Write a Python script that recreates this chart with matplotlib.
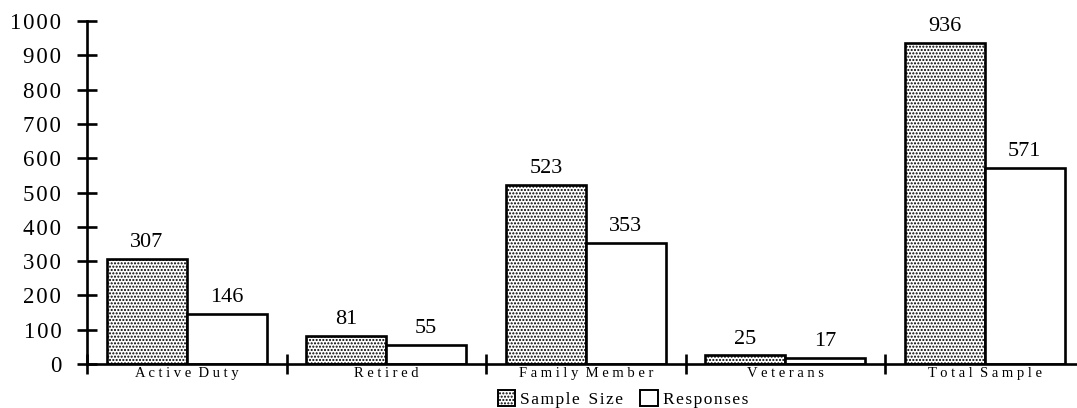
import matplotlib
matplotlib.use("Agg")
import matplotlib.pyplot as plt
import numpy as np
from matplotlib.patches import Patch

categories = ["Active Duty", "Retired", "Family Member", "Veterans", "Total Sample"]
sample_size = [307, 81, 523, 25, 936]
responses = [146, 55, 353, 17, 571]
y_ticks = [0, 100, 200, 300, 400, 500, 600, 700, 800, 900, 1000]

plt.rcParams["font.family"] = ["Liberation Serif", "DejaVu Serif"]
plt.rcParams["hatch.linewidth"] = 1.0
plt.rcParams["hatch.color"] = "#555555"

HAIR = "\u200a"


def spaced(s, sep=" "):
    return sep.join(s).replace(sep + " " + sep, "  ")


W, H = 1077, 408
fig = plt.figure(figsize=(W / 100, H / 100), dpi=100)
left_px, right_px = 87, 87 + 5 * 199.5
top_px, bottom_px = 21, 364
ax = fig.add_axes([left_px / W, 1 - bottom_px / H,
                   (right_px - left_px) / W, (bottom_px - top_px) / H])

x = np.arange(len(categories)) + 0.5
bw = 0.40
ax.bar(x - bw / 2, sample_size, bw, facecolor="white", edgecolor="black",
       linewidth=1.9, hatch=".....")
ax.bar(x + bw / 2, responses, bw, facecolor="white", edgecolor="black",
       linewidth=1.9)

for xi, v in zip(x - bw / 2, sample_size):
    ax.text(xi, v + 20, str(v), ha="center", va="bottom", fontsize=16)
for xi, v in zip(x + bw / 2, responses):
    ax.text(xi, v + 20, str(v), ha="center", va="bottom", fontsize=16)

ax.set_xlim(0, 5)
ax.set_ylim(0, 1000)
for s in ["top", "right"]:
    ax.spines[s].set_visible(False)
ax.spines["left"].set_linewidth(1.9)
ax.spines["bottom"].set_linewidth(1.9)

ax.set_yticks(y_ticks)
ax.set_yticklabels([spaced(str(t), HAIR) for t in y_ticks], fontsize=16.5)
ax.tick_params(axis="y", direction="inout", length=15, width=1.9, pad=11)
ax.set_xticks(np.arange(len(categories) + 1))
ax.set_xticklabels([])
ax.tick_params(axis="x", direction="inout", length=15, width=1.9)

for xi, c in zip(x, categories):
    ax.text(xi, -8, spaced(c), ha="center", va="top", fontsize=10.5)

handles = [Patch(facecolor="white", edgecolor="black", hatch=".....", linewidth=1.4),
           Patch(facecolor="white", edgecolor="black", linewidth=1.4)]
fig.legend(handles, [spaced("Sample Size", HAIR), spaced("Responses", HAIR)],
           loc="center", bbox_to_anchor=(623 / W, 1 - 399 / H), ncol=2,
           frameon=False, fontsize=12.5, handlelength=1.0, handleheight=1.0,
           handletextpad=0.3, columnspacing=1.0, borderpad=0)

fig.savefig("out.png", dpi=100)
